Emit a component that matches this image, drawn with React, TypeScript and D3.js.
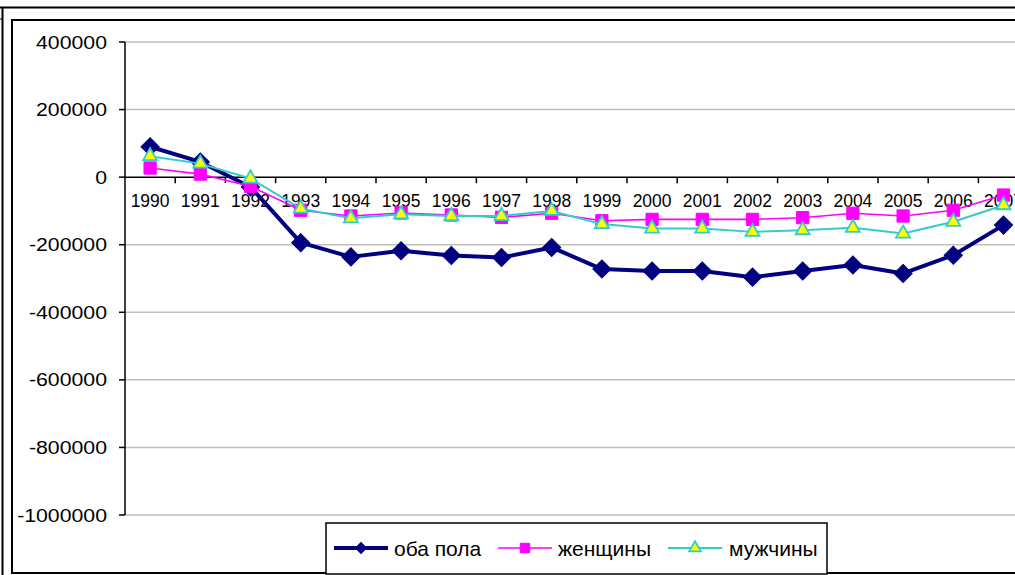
import { scaleLinear, scaleBand, line, symbol, symbolSquare, symbolTriangle } from 'd3'

const width = 1015,
      height = 575,
      margin = { top: 42, left: 125, bottom: 60 }

const years = ['1990', '1991', '1992', '1993', '1994', '1995', '1996', '1997', '1998',
  '1999', '2000', '2001', '2002', '2003', '2004', '2005', '2006', '2007']

const both = [90000, 45000, -29000, -194000, -236000, -218000, -232000, -238000, -208000,
  -272000, -278000, -278000, -296000, -278000, -260000, -285000, -231000, -142000]
const women = [27000, 9000, -27000, -98000, -115000, -106000, -112000, -119000, -107000,
  -129000, -125000, -125000, -125000, -120000, -107000, -115000, -98000, -53000]
const men = [62000, 40000, -4000, -93000, -122000, -110000, -115000, -115000, -100000,
  -139000, -152000, -152000, -162000, -157000, -150000, -167000, -132000, -83000]

const yTicks = [400000, 200000, 0, -200000, -400000, -600000, -800000, -1000000]
const seriesNames = ['оба пола', 'женщины', 'мужчины']

const font = 'Arial, "Liberation Sans", sans-serif'

const App = () => {
  const x = scaleBand()
    .domain(years)
    .range([margin.left, margin.left + 50.2 * years.length])

  const y = scaleLinear()
    .domain([-1000000, 400000])
    .range([515, margin.top])

  const cx = (d: string) => x(d)! + x.bandwidth() / 2

  const makeLine = (vals: number[]) =>
    line<number>()
      .x((d, i) => cx(years[i]))
      .y(d => y(d))(vals)

  // diamond = square turned 45deg
  const series = [
    { name: seriesNames[0], vals: both, stroke: '#000080', sw: 4, type: symbolSquare, rot: 45, size: 165, lsize: 60, fill: '#000080', mstroke: '#000080', msw: 1 },
    { name: seriesNames[1], vals: women, stroke: '#ff00ff', sw: 1.6, type: symbolSquare, rot: 0, size: 150, lsize: 90, fill: '#ff00ff', mstroke: '#ff00ff', msw: 1 },
    { name: seriesNames[2], vals: men, stroke: '#33cccc', sw: 2, type: symbolTriangle, rot: 0, size: 85, lsize: 60, fill: '#ffff00', mstroke: '#33cccc', msw: 1.8 },
  ]

  const legendItems = [
    { x0: 334, tx: 394 },
    { x0: 498, tx: 558 },
    { x0: 668, tx: 729 },
  ]
  const ly = 548

  return (
    <svg width={width} height={height} style={{ position: 'fixed', left: 0, top: 0, background: '#fff' }}>
      {/* frames */}
      <line x1={0} x2={width} y1={7.5} y2={7.5} stroke='#000' strokeWidth={2} />
      <line x1={2.5} x2={2.5} y1={7} y2={height} stroke='#000' strokeWidth={2} />
      <line x1={0} x2={2} y1={19} y2={19} stroke='#000' strokeWidth={1} />
      <rect x={12} y={20} width={width} height={553} fill='none' stroke='#000' strokeWidth={2} />

      {/* grid */}
      {yTicks.filter(t => t !== 0).map(t => (
        <line key={t} x1={margin.left} x2={width} y1={y(t)} y2={y(t)} stroke='#c0c0c0' strokeWidth={1.5} />
      ))}

      {/* y axis */}
      <line x1={margin.left} x2={margin.left} y1={y(400000)} y2={y(-1000000)} stroke='#000' strokeWidth={1.5} />
      {yTicks.map(t => (
        <g key={t}>
          <line x1={margin.left - 6} x2={margin.left} y1={y(t)} y2={y(t)} stroke='#000' strokeWidth={1.5} />
          <text transform={`translate(${margin.left - 18},${y(t)}) scale(1.12,1)`} textAnchor='end'
                dominantBaseline='central' fontFamily={font} fontSize={19}>{t}</text>
        </g>
      ))}

      {/* x axis at zero */}
      <line x1={margin.left} x2={width} y1={y(0)} y2={y(0)} stroke='#000' strokeWidth={1.5} />
      {years.map(d => (
        <g key={d}>
          <line x1={x(d)! + x.bandwidth()} x2={x(d)! + x.bandwidth()} y1={y(0)} y2={y(0) + 6} stroke='#000' strokeWidth={1.5} />
          <text x={cx(d)} y={y(0) + 30} textAnchor='middle' fontFamily={font} fontSize={17.5}>{d}</text>
        </g>
      ))}

      {/* series */}
      {series.map(s => (
        <g key={s.name}>
          <path d={makeLine(s.vals) ?? ''} fill='none' stroke={s.stroke} strokeWidth={s.sw} strokeLinejoin='round' />
          {s.vals.map((v, i) => (
            <path key={i} transform={`translate(${cx(years[i])},${y(v)}) rotate(${s.rot})`}
                  d={symbol(s.type, s.size)() ?? ''} fill={s.fill} stroke={s.mstroke} strokeWidth={s.msw} />
          ))}
        </g>
      ))}

      {/* legend */}
      <rect x={326} y={523} width={501} height={51} fill='#fff' stroke='#000' strokeWidth={1.5} />
      {series.map((s, i) => (
        <g key={s.name}>
          <line x1={legendItems[i].x0} x2={legendItems[i].x0 + 54} y1={ly} y2={ly} stroke={s.stroke} strokeWidth={s.sw} />
          <path transform={`translate(${legendItems[i].x0 + 27},${ly}) rotate(${s.rot})`}
                d={symbol(s.type, s.lsize)() ?? ''} fill={s.fill} stroke={s.mstroke} strokeWidth={s.msw} />
          <text x={legendItems[i].tx} y={ly} dominantBaseline='central' fontFamily={font} fontSize={21}>{s.name}</text>
        </g>
      ))}
    </svg>
  )
}

export default App
